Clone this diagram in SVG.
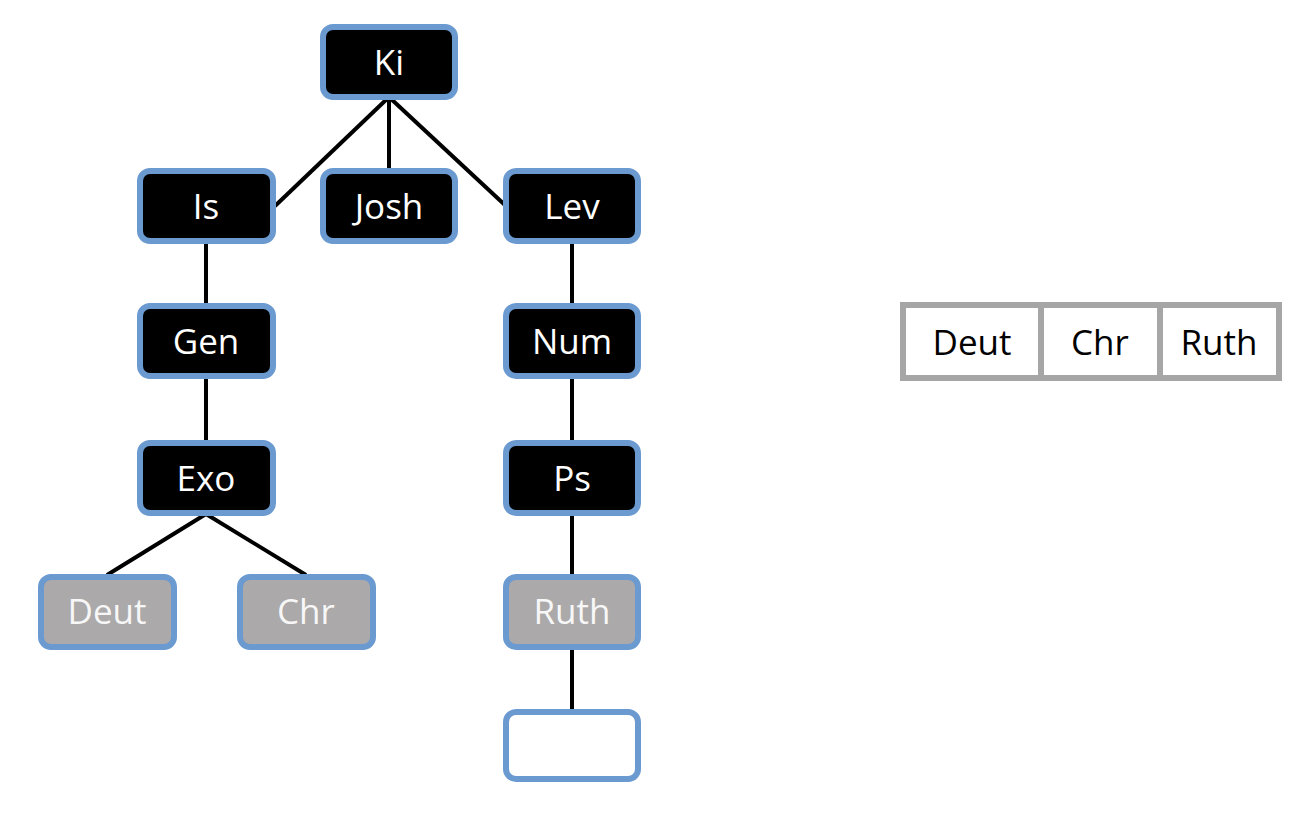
<svg xmlns="http://www.w3.org/2000/svg" width="1308" height="822" viewBox="0 0 1308 822">
<style>
.n rect{stroke:#6A9AD0;stroke-width:6}
.dark rect{fill:#000}
.gray rect{fill:#ABA9A9}
.empty rect{fill:#fff}
.n text{fill:#fff;font-family:"Open Sans","Noto Sans",sans-serif;font-size:35px;text-anchor:middle;dominant-baseline:central}
.gray text{fill:#F7F7F7}
#connectors line{stroke:#000;stroke-width:4}
.arr rect{fill:#fff;stroke:#A6A6A6;stroke-width:6}
.arr text{fill:#000;font-family:"Open Sans","Noto Sans",sans-serif;font-size:35px;text-anchor:middle;dominant-baseline:central}
</style>
<rect width="1308" height="822" fill="#fff"/>
<g id="connectors">
<line x1="389" y1="97" x2="275" y2="206"/>
<line x1="389" y1="97" x2="389" y2="170"/>
<line x1="389" y1="97" x2="506" y2="206"/>
<line x1="206" y1="242" x2="206" y2="304"/>
<line x1="206" y1="377" x2="206" y2="441"/>
<line x1="206" y1="514" x2="107" y2="575"/>
<line x1="206" y1="514" x2="306" y2="575"/>
<line x1="572" y1="242" x2="572" y2="304"/>
<line x1="572" y1="377" x2="572" y2="441"/>
<line x1="572" y1="514" x2="572" y2="576"/>
<line x1="572" y1="649" x2="572" y2="710"/>
</g>
<g id="n-ki" class="n dark"><rect x="323" y="27" width="132" height="70" rx="10"/><text x="389" y="61">Ki</text></g>
<g id="n-is" class="n dark"><rect x="140" y="171" width="133" height="70" rx="10"/><text x="206" y="205">Is</text></g>
<g id="n-josh" class="n dark"><rect x="323" y="171" width="132" height="70" rx="10"/><text x="389" y="205">Josh</text></g>
<g id="n-lev" class="n dark"><rect x="506" y="171" width="132" height="70" rx="10"/><text x="572" y="205">Lev</text></g>
<g id="n-gen" class="n dark"><rect x="140" y="306" width="133" height="70" rx="10"/><text x="206" y="340">Gen</text></g>
<g id="n-num" class="n dark"><rect x="506" y="306" width="132" height="70" rx="10"/><text x="572" y="340">Num</text></g>
<g id="n-exo" class="n dark"><rect x="140" y="443" width="133" height="70" rx="10"/><text x="206" y="477">Exo</text></g>
<g id="n-ps" class="n dark"><rect x="506" y="443" width="132" height="70" rx="10"/><text x="572" y="477">Ps</text></g>
<g id="n-deut" class="n gray"><rect x="41" y="577" width="133" height="70" rx="10"/><text x="107" y="610">Deut</text></g>
<g id="n-chr" class="n gray"><rect x="240" y="577" width="133" height="70" rx="10"/><text x="306" y="610">Chr</text></g>
<g id="n-ruth" class="n gray"><rect x="506" y="577" width="132" height="70" rx="10"/><text x="572" y="610">Ruth</text></g>
<g id="n-empty" class="n empty"><rect x="506" y="712" width="132" height="67" rx="10"/></g>
<g id="array" class="arr">
<rect x="903" y="305" width="376" height="73"/>
<line x1="1041" y1="305" x2="1041" y2="378" stroke="#A6A6A6" stroke-width="6"/>
<line x1="1160" y1="305" x2="1160" y2="378" stroke="#A6A6A6" stroke-width="6"/>
<text x="972" y="341">Deut</text>
<text x="1100" y="341">Chr</text>
<text x="1219" y="341">Ruth</text>
</g>
</svg>
